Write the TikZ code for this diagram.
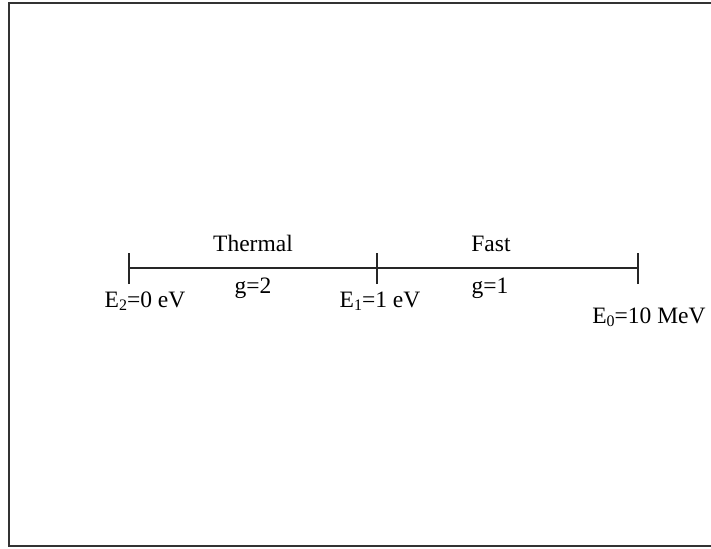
\documentclass[tikz,border=0pt]{standalone}
\usepackage{fontspec}
\setmainfont{Liberation Serif}
\newcommand{\mysub}[1]{\raisebox{-0.3ex}{\fontsize{16}{16}\selectfont #1}}
\begin{document}
\begin{tikzpicture}[x=1pt,y=-1pt,
  lbl/.style={anchor=base,inner sep=0pt,font=\fontsize{23.5}{27}\selectfont},
  axis/.style={line width=1.3pt,black!85},
  frame/.style={line width=2pt,black!80}]
\useasboundingbox (0,0) rectangle (711,548);
\draw[frame] (711,3) -- (9,3) -- (9,546) -- (711,546);
\coordinate (t2) at (129,268);
\coordinate (t1) at (377,268);
\coordinate (t0) at (638,268);
\draw[axis] (t2) -- (t1) -- (t0);
\foreach \t in {t2,t1,t0} \draw[axis] ([yshift=-16pt]\t) -- ([yshift=15pt]\t);
\node[lbl] (thermal) at (253,251) {Thermal};
\node[lbl] (fast) at (491,251) {Fast};
\node[lbl] (g2) at (253,293) {g=2};
\node[lbl] (g1) at (490,293) {g=1};
\node[lbl] (e2) at (145,307) {E\mysub{2}=0 eV};
\node[lbl] (e1) at (380,307) {E\mysub{1}=1 eV};
\node[lbl] (e0) at (649,323) {E\mysub{0}=10 MeV};
\end{tikzpicture}
\end{document}
